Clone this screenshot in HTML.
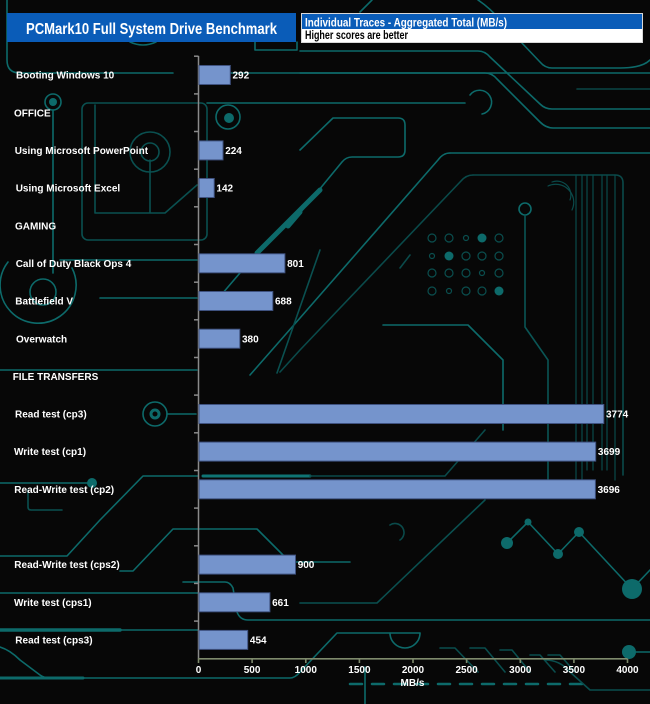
<!DOCTYPE html>
<html><head><meta charset="utf-8"><style>
html,body{margin:0;padding:0;background:#070707;}
svg{display:block;}
text{font-family:"Liberation Sans",Arial,sans-serif;font-weight:bold;}
</style></head><body>
<svg width="650" height="704" viewBox="0 0 650 704" xmlns="http://www.w3.org/2000/svg">
<rect x="0" y="0" width="650" height="704" fill="#070707"/>
<g fill="none" stroke="#0d6a6a" stroke-width="1.6" stroke-linecap="round" stroke-linejoin="round">
 <path d="M7,0 V60 Q7,73 20,73 H173"/>
 <path d="M230,73 H650"/>
 <path d="M300,51 H478 Q485,51 490,57 L540,104 Q545,109 552,109 H650"/>
 <path d="M300,73 H485 Q492,73 497,79 L540,122 Q546,128 553,128 H650"/>
 <path d="M478,0 Q490,8 500,20 L540,62 Q545,68 552,68 H620 Q642,68 650,60"/>
 <path d="M372,0 Q366,6 360,12"/>
 <path d="M577,89 H650" stroke="#0a4646"/>
 <path d="M207,103 H465"/>
 <path d="M470,95 A12,12 0 1,1 482,114"/>
 <path d="M300,150 L333,118 H398 Q405,118 405,125 V150 Q405,157 398,157 H352 Q346,157 342,162 L300,213"/>
 <path d="M300,212 L288,226" stroke-width="5"/>
 <path d="M450,153 H650"/>
 <path d="M450,153 Q443,153 438,160 L300,318 L250,375"/>
 <path d="M473,175 H615 Q623,175 623,183 V475" stroke="#0a4a4a"/>
 <path d="M473,175 Q466,175 461,181 L300,350 L280,372" stroke="#0a4a4a"/>
 <circle cx="525" cy="209" r="6"/>
 <path d="M525,215 V327 L548,360 V480" stroke="#0a5555"/>
 <g stroke="#0a4a4a" stroke-width="1.2">
  <path d="M576,175 V480"/><path d="M582,175 V480"/><path d="M587,175 V470"/><path d="M593,175 V470"/>
  <path d="M602,175 V470"/><path d="M607,175 V470"/><path d="M615,175 V480"/>
  <path d="M552,182 A14,14 0 0,1 570,200"/><path d="M548,186 A18,18 0 0,1 572,210"/>
 </g>
 <path d="M383,325 H468 L503,360 V430"/>
 <g stroke="#0a4e4e" stroke-width="1.2">
  <circle cx="432" cy="238" r="4"/><circle cx="449" cy="238" r="4"/><circle cx="466" cy="238" r="2.5"/><circle cx="499" cy="238" r="4"/>
  <circle cx="432" cy="256" r="2.5"/><circle cx="466" cy="256" r="4"/><circle cx="482" cy="256" r="4"/><circle cx="499" cy="256" r="4"/>
  <circle cx="432" cy="273" r="4"/><circle cx="449" cy="273" r="4"/><circle cx="466" cy="273" r="4"/><circle cx="482" cy="273" r="2.5"/><circle cx="499" cy="273" r="4"/>
  <circle cx="432" cy="291" r="4"/><circle cx="449" cy="291" r="2.5"/><circle cx="466" cy="291" r="4"/><circle cx="482" cy="291" r="4"/>
 </g>
 <circle cx="53" cy="102" r="8"/>
 <path d="M53,110 V273"/>
 <rect x="82" y="103" width="125" height="137" rx="6" stroke="#0a5050"/>
 <path d="M95,105 V213 H150 M150,160 V213 M150,213 H165 L197,185" stroke="#0a5050"/>
 <circle cx="150" cy="152" r="20" stroke="#0a5050"/>
 <circle cx="150" cy="152" r="9" stroke="#0a5050"/>
 <circle cx="228" cy="117" r="12"/>
 <path d="M8,262 A38,38 0 1,0 72,268"/>
 <circle cx="43" cy="292" r="13"/>
 <path d="M100,298 H197"/>
 <path d="M60,260 H197"/>
 <path d="M320,190 L257,253" stroke-width="5"/>
 <path d="M257,253 L222,294"/>
 <path d="M320,250 L277,373" stroke="#0a5050"/>
 <path d="M0,370 H197"/>
 <circle cx="155" cy="414" r="12"/>
 <circle cx="155" cy="414" r="4" stroke-width="3"/>
 <path d="M167,414 H196"/>
 <path d="M0,483 H90"/>
 <path d="M28,490 V507 Q28,510 31,510 H62" stroke="#0a5050"/>
 <path d="M0,556 H67 L100,520 L143,476 H198"/>
 <path d="M203,476 H310" stroke-width="3" stroke="#0f7474"/>
 <path d="M310,476 H445 L485,430" stroke="#0a4a4a"/>
 <path d="M120,571 H133 L173,529 H257 L283,555 L290,562 H350"/>
 <path d="M0,593 H198"/>
 <path d="M0,630 H198"/>
 <path d="M0,630 H120" stroke-width="3.5"/>
 <path d="M0,647 Q10,650 20,660 L40,675 Q44,678 50,678 H290 Q295,678 300,672 L337,633 H420"/>
 <path d="M0,678 H83" stroke-width="3"/>
 <path d="M390,633 A15,15 0 0,0 420,633"/>
 <path d="M183,582 H225 Q230,582 233,588 L237,612 Q240,620 248,620 H650"/>
 <path d="M300,603 H377 L485,500" stroke="#0a5050"/>
 <path d="M507,543 L528,522 L558,554 L579,532 L632,589 L650,570"/>
 <path d="M350,684 H583" stroke-dasharray="12,10" stroke-width="2.5"/>
 <path d="M365,667 V704"/>
 <path d="M636,652 H650"/>
 <path d="M440,648 H455 L478,672 M470,648 H485 L505,672 M500,650 H512 L530,672 M530,655 H540 L555,672 M548,655 H560 L575,672" stroke="#0a4e4e"/>
 <path d="M545,660 Q560,660 570,672 L590,690 H650" stroke="#0a4e4e"/>
 <path d="M410,255 L400,268 M390,525 A8,8 0 1,1 400,540" stroke="#0a4a4a"/>
 <path d="M255,42 V50 H297 V42"/>
 <path d="M130,42 Q143,48 156,42"/>
</g>
<g fill="#0d6a6a">
 <circle cx="482" cy="238" r="4.5"/><circle cx="449" cy="256" r="4.5"/><circle cx="499" cy="291" r="4.5"/>
 <circle cx="229" cy="118" r="5"/>
 <circle cx="92" cy="483" r="5"/>
 <circle cx="507" cy="543" r="6"/><circle cx="528" cy="522" r="3.5"/><circle cx="558" cy="554" r="5"/><circle cx="579" cy="532" r="5"/><circle cx="632" cy="589" r="10"/>
 <circle cx="629" cy="652" r="7"/>
 <circle cx="53" cy="102" r="4"/>
</g>

<!-- header -->
<rect x="7" y="13" width="289" height="29" fill="#0a5cb8"/>
<text x="151.5" y="34" fill="#ffffff" font-size="16" text-anchor="middle" textLength="251" lengthAdjust="spacingAndGlyphs">PCMark10 Full System Drive Benchmark</text>
<rect x="301.5" y="13.5" width="341" height="29" fill="#ffffff" stroke="#d8d8d8" stroke-width="1"/>
<rect x="302" y="14" width="340" height="15" fill="#0a5cb8"/>
<text x="305" y="26.5" fill="#ffffff" font-size="12" textLength="202" lengthAdjust="spacingAndGlyphs">Individual Traces - Aggregated Total (MB/s)</text>
<text x="305" y="38.8" fill="#000000" font-size="12" textLength="103" lengthAdjust="spacingAndGlyphs">Higher scores are better</text>

<!-- axes -->
<g stroke="#8a8a8a" stroke-width="1.5">
 <line x1="198.5" y1="56" x2="198.5" y2="659"/>
 <line x1="194" y1="56.2" x2="198.5" y2="56.2"/>
 <line x1="194" y1="93.9" x2="198.5" y2="93.9"/>
 <line x1="194" y1="131.5" x2="198.5" y2="131.5"/>
 <line x1="194" y1="169.2" x2="198.5" y2="169.2"/>
 <line x1="194" y1="206.8" x2="198.5" y2="206.8"/>
 <line x1="194" y1="244.5" x2="198.5" y2="244.5"/>
 <line x1="194" y1="282.2" x2="198.5" y2="282.2"/>
 <line x1="194" y1="319.8" x2="198.5" y2="319.8"/>
 <line x1="194" y1="357.5" x2="198.5" y2="357.5"/>
 <line x1="194" y1="395.1" x2="198.5" y2="395.1"/>
 <line x1="194" y1="432.8" x2="198.5" y2="432.8"/>
 <line x1="194" y1="470.5" x2="198.5" y2="470.5"/>
 <line x1="194" y1="508.1" x2="198.5" y2="508.1"/>
 <line x1="194" y1="545.8" x2="198.5" y2="545.8"/>
 <line x1="194" y1="583.4" x2="198.5" y2="583.4"/>
 <line x1="194" y1="621.1" x2="198.5" y2="621.1"/>
</g>
<g stroke="#7e8a6c" stroke-width="1.6">
 <line x1="198" y1="658.8" x2="627.5" y2="658.8"/>
 <line x1="198.5" y1="658.8" x2="198.5" y2="663"/>
 <line x1="252.1" y1="658.8" x2="252.1" y2="663"/>
 <line x1="305.8" y1="658.8" x2="305.8" y2="663"/>
 <line x1="359.4" y1="658.8" x2="359.4" y2="663"/>
 <line x1="413" y1="658.8" x2="413" y2="663"/>
 <line x1="466.6" y1="658.8" x2="466.6" y2="663"/>
 <line x1="520.3" y1="658.8" x2="520.3" y2="663"/>
 <line x1="573.9" y1="658.8" x2="573.9" y2="663"/>
 <line x1="627.5" y1="658.8" x2="627.5" y2="663"/>
</g>
<g fill="#ffffff" font-size="10" text-anchor="middle">
 <text x="198.5" y="673">0</text>
 <text x="252.1" y="673">500</text>
 <text x="305.8" y="673">1000</text>
 <text x="359.4" y="673">1500</text>
 <text x="413" y="673">2000</text>
 <text x="466.6" y="673">2500</text>
 <text x="520.3" y="673">3000</text>
 <text x="573.9" y="673">3500</text>
 <text x="627.5" y="673">4000</text>
 <text x="412.5" y="686">MB/s</text>
</g>

<!-- bars -->
<g fill="#7594cc" stroke="#3f5280" stroke-width="1">
 <rect x="199" y="65.5" width="31.3" height="19"/>
 <rect x="199" y="140.9" width="24" height="19"/>
 <rect x="199" y="178.5" width="15.2" height="19"/>
 <rect x="199" y="253.8" width="85.9" height="19"/>
 <rect x="199" y="291.5" width="73.8" height="19"/>
 <rect x="199" y="329.2" width="40.8" height="19"/>
 <rect x="199" y="404.5" width="404.8" height="19"/>
 <rect x="199" y="442.1" width="396.7" height="19"/>
 <rect x="199" y="479.8" width="396.4" height="19"/>
 <rect x="199" y="555.1" width="96.5" height="19"/>
 <rect x="199" y="592.8" width="70.9" height="19"/>
 <rect x="199" y="630.4" width="48.7" height="19"/>
</g>
<g fill="#ffffff" font-size="10">
 <text x="232.5" y="78.6">292</text>
 <text x="225.2" y="154">224</text>
 <text x="216.4" y="191.6">142</text>
 <text x="287.1" y="266.9">801</text>
 <text x="275" y="304.6">688</text>
 <text x="242" y="342.3">380</text>
 <text x="606" y="417.6">3774</text>
 <text x="597.9" y="455.2">3699</text>
 <text x="597.6" y="492.9">3696</text>
 <text x="297.7" y="568.2">900</text>
 <text x="272.1" y="605.9">661</text>
 <text x="249.9" y="643.5">454</text>
</g>

<!-- category labels -->
<g fill="#ffffff" font-size="10">
 <text x="16" y="78.6">Booting Windows 10</text>
 <text x="14" y="116.3">OFFICE</text>
 <text x="14.7" y="154">Using Microsoft PowerPoint</text>
 <text x="15.7" y="191.6">Using Microsoft Excel</text>
 <text x="15" y="229.3">GAMING</text>
 <text x="15.7" y="266.9">Call of Duty Black Ops 4</text>
 <text x="15.3" y="304.6">Battlefield V</text>
 <text x="16" y="342.3">Overwatch</text>
 <text x="12.7" y="379.9">FILE TRANSFERS</text>
 <text x="15" y="417.6">Read test (cp3)</text>
 <text x="14" y="455.2">Write test (cp1)</text>
 <text x="14.3" y="492.9">Read-Write test (cp2)</text>
 <text x="14.3" y="568.2">Read-Write test (cps2)</text>
 <text x="14" y="605.9">Write test (cps1)</text>
 <text x="15.3" y="643.5">Read test (cps3)</text>
</g>
</svg>
</body></html>
